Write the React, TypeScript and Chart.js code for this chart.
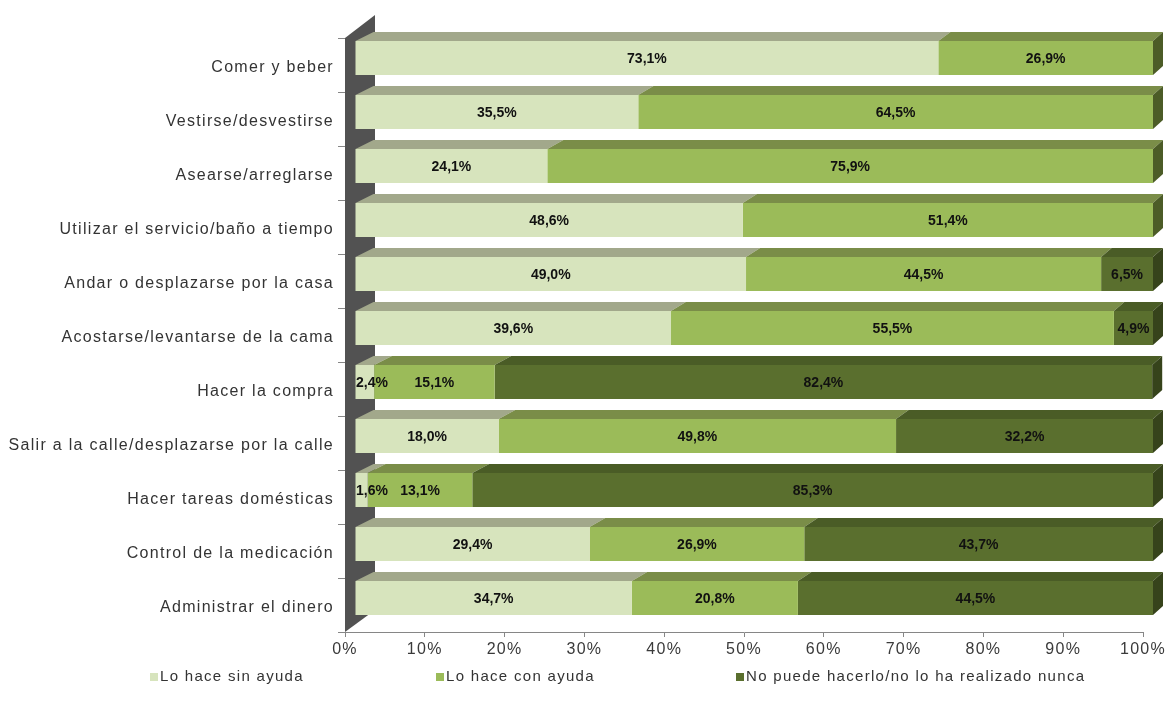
import React, { useEffect, useRef } from "react";
import { Chart, registerables } from "chart.js";

Chart.register(...registerables);

const categories = [
  "Comer y beber",
  "Vestirse/desvestirse",
  "Asearse/arreglarse",
  "Utilizar el servicio/baño a tiempo",
  "Andar o desplazarse por la casa",
  "Acostarse/levantarse de la cama",
  "Hacer la compra",
  "Salir a la calle/desplazarse por la calle",
  "Hacer tareas domésticas",
  "Control de la medicación",
  "Administrar el dinero",
];

const sinAyuda = [73.1, 35.5, 24.1, 48.6, 49.0, 39.6, 2.4, 18.0, 1.6, 29.4, 34.7];
const conAyuda = [26.9, 64.5, 75.9, 51.4, 44.5, 55.5, 15.1, 49.8, 13.1, 26.9, 20.8];
const noPuede = [0, 0, 0, 0, 6.5, 4.9, 82.4, 32.2, 85.3, 43.7, 44.5];

const seriesNames = [
  "Lo hace sin ayuda",
  "Lo hace con ayuda",
  "No puede hacerlo/no lo ha realizado nunca",
];

const FRONT = ["#d7e4bd", "#9bbb59", "#5a6f2e"];
const TOP = ["#a2a88b", "#7a8d48", "#4a5c26"];
const SIDE = ["#b9c3a0", "#4c5c27", "#36431b"];

const FONT = "'Liberation Sans', Arial, sans-serif";
const SHIFT_X = 10;
const SHIFT_Y = -7;
const DEPTH_Y = 9;
const DEPTH_X_LEFT = 18;
const DEPTH_X_RIGHT = 10;
const LEGEND_X = [150, 436, 736];
const LEGEND_Y = 677;

const fmt = (v: number) => v.toFixed(1).replace(".", ",") + "%";

const threeD = {
  id: "threeD",
  beforeDraw(chart: any) {
    chart.ctx.letterSpacing = "1.3px";
  },
  beforeDatasetsDraw(chart: any) {
    const ctx = chart.ctx;
    const { left, top, bottom } = chart.chartArea;
    ctx.save();
    ctx.fillStyle = "#525252";
    ctx.beginPath();
    ctx.moveTo(left, bottom);
    ctx.lineTo(left, top);
    ctx.lineTo(left + 30, top - 23);
    ctx.lineTo(left + 30, bottom - 22);
    ctx.closePath();
    ctx.fill();
    ctx.restore();
    ctx.save();
    ctx.translate(SHIFT_X, SHIFT_Y);
  },
  afterDatasetsDraw(chart: any) {
    const ctx = chart.ctx;
    ctx.restore();
    const xs = chart.scales.x;
    const x0 = xs.getPixelForValue(0) + SHIFT_X;
    const x100 = xs.getPixelForValue(100) + SHIFT_X;
    const back = (fx: number) =>
      fx + DEPTH_X_LEFT + ((DEPTH_X_RIGHT - DEPTH_X_LEFT) * (fx - x0)) / (x100 - x0);
    const dsets = chart.data.datasets;
    const poly = (pts: number[][], color: string) => {
      ctx.fillStyle = color;
      ctx.beginPath();
      ctx.moveTo(pts[0][0], pts[0][1]);
      for (let k = 1; k < pts.length; k++) ctx.lineTo(pts[k][0], pts[k][1]);
      ctx.closePath();
      ctx.fill();
    };
    const labels: any[] = [];
    ctx.save();
    for (let j = 0; j < categories.length; j++) {
      let last = -1;
      for (let i = 0; i < dsets.length; i++) if (dsets[i].data[j] > 0) last = i;
      for (let i = 0; i < dsets.length; i++) {
        const v = dsets[i].data[j];
        if (!v) continue;
        const el = chart.getDatasetMeta(i).data[j];
        const p = el.getProps(["x", "base", "y", "height"], true);
        const l = Math.min(p.x, p.base) + SHIFT_X;
        const r = Math.max(p.x, p.base) + SHIFT_X;
        const t = p.y - p.height / 2 + SHIFT_Y;
        const b = p.y + p.height / 2 + SHIFT_Y;
        poly(
          [
            [l, t],
            [r, t],
            [back(r), t - DEPTH_Y],
            [back(l), t - DEPTH_Y],
          ],
          TOP[i]
        );
        if (i === last) {
          poly(
            [
              [r, t],
              [back(r), t - DEPTH_Y],
              [back(r), b - DEPTH_Y],
              [r, b],
            ],
            SIDE[i]
          );
        }
        labels.push({ l, r, y: (t + b) / 2, text: fmt(v) });
      }
    }
    ctx.letterSpacing = "0px";
    ctx.font = `bold 14px ${FONT}`;
    ctx.fillStyle = "#111";
    ctx.textAlign = "center";
    ctx.textBaseline = "middle";
    for (const lb of labels) {
      const w = ctx.measureText(lb.text).width;
      let cx = (lb.l + lb.r) / 2;
      if (cx - w / 2 < x0 + 1) cx = x0 + 1 + w / 2;
      ctx.fillText(lb.text, cx, lb.y + 1);
    }
    ctx.restore();
  },
  afterDraw(chart: any) {
    const ctx = chart.ctx;
    ctx.save();
    ctx.letterSpacing = "1.3px";
    ctx.font = `15px ${FONT}`;
    ctx.textAlign = "left";
    ctx.textBaseline = "middle";
    for (let i = 0; i < seriesNames.length; i++) {
      ctx.fillStyle = FRONT[i];
      ctx.fillRect(LEGEND_X[i], LEGEND_Y - 4, 8, 8);
      ctx.fillStyle = "#333";
      ctx.fillText(seriesNames[i], LEGEND_X[i] + 10, LEGEND_Y);
    }
    ctx.restore();
  },
};

export default function App() {
  const ref = useRef<HTMLCanvasElement>(null);
  useEffect(() => {
    const chart = new Chart(ref.current!, {
      type: "bar",
      data: {
        labels: categories,
        datasets: [sinAyuda, conAyuda, noPuede].map((d, i) => ({
          label: seriesNames[i],
          data: d,
          backgroundColor: FRONT[i],
          borderWidth: 0,
          barPercentage: 0.63,
          categoryPercentage: 1,
        })),
      },
      options: {
        indexAxis: "y",
        responsive: false,
        animation: false,
        devicePixelRatio: 1,
        layout: { padding: { left: 0, top: 38, right: 25, bottom: 0 } },
        font: { family: FONT },
        plugins: {
          legend: { display: false },
          tooltip: { enabled: false },
        },
        scales: {
          x: {
            stacked: true,
            min: 0,
            max: 100,
            afterFit: (s: any) => {
              s.height = 79;
            },
            grid: {
              drawOnChartArea: false,
              tickLength: 5,
              color: "#868686",
            },
            border: { color: "#868686" },
            ticks: {
              stepSize: 10,
              maxRotation: 0,
              padding: 3,
              color: "#3a3a3a",
              font: { size: 16, family: FONT },
              callback: (v: any) => v + "%",
            },
          },
          y: {
            stacked: true,
            afterFit: (s: any) => {
              s.width = 345;
            },
            grid: {
              drawOnChartArea: false,
              tickLength: 7,
              color: "#868686",
              offset: true,
            },
            border: { display: false },
            ticks: {
              padding: 4,
              labelOffset: 3,
              color: "#333",
              font: { size: 16, family: FONT },
            },
          },
        },
      },
      plugins: [threeD],
    } as any);
    return () => chart.destroy();
  }, []);
  return (
    <div style={{ position: "absolute", left: 0, top: 0, width: 1168, height: 711, background: "#fff" }}>
      <canvas ref={ref} width={1168} height={711} style={{ display: "block", width: 1168, height: 711 }} />
    </div>
  );
}
